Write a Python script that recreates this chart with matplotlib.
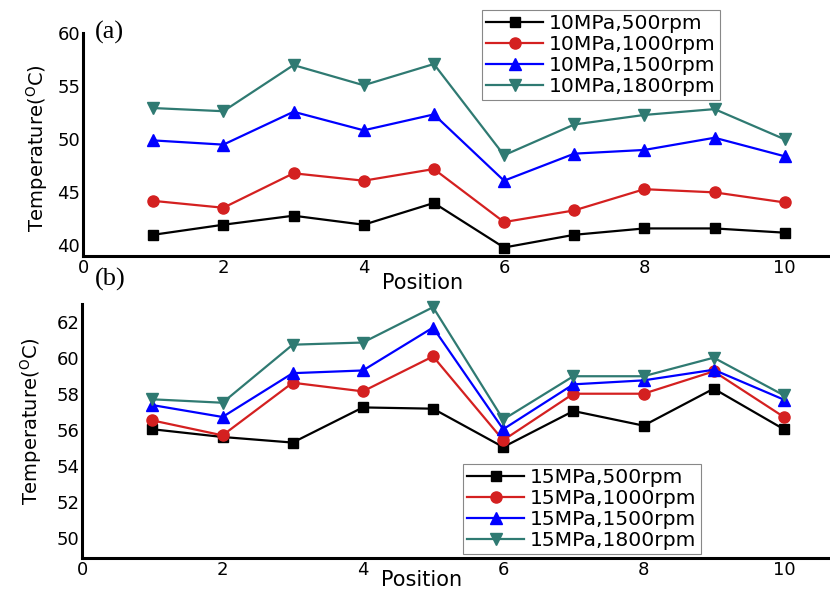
import matplotlib
matplotlib.use("Agg")
import matplotlib.pyplot as plt

plt.rcParams['font.family'] = ['DejaVu Sans']
plt.rcParams['mathtext.fontset'] = 'dejavusans'

positions = [1, 2, 3, 4, 5, 6, 7, 8, 9, 10]

# (a) 10 MPa
p10_500 = [41.0, 41.95, 42.8, 41.95, 44.0, 39.8, 41.0, 41.6, 41.6, 41.2]
p10_1000 = [44.2, 43.55, 46.8, 46.1, 47.2, 42.2, 43.3, 45.3, 45.0, 44.05]
p10_1500 = [49.9, 49.5, 52.6, 50.85, 52.35, 46.1, 48.65, 49.0, 50.15, 48.4]
p10_1800 = [52.95, 52.65, 57.0, 55.1, 57.1, 48.5, 51.4, 52.3, 52.85, 50.0]

# (b) 15 MPa
p15_500 = [56.06, 55.63, 55.32, 57.27, 57.2, 55.07, 57.07, 56.26, 58.31, 56.06]
p15_1000 = [56.55, 55.72, 58.64, 58.16, 60.1, 55.45, 58.03, 58.03, 59.27, 56.74]
p15_1500 = [57.4, 56.74, 59.17, 59.32, 61.7, 56.06, 58.55, 58.77, 59.36, 57.7]
p15_1800 = [57.72, 57.53, 60.75, 60.87, 62.83, 56.6, 59.0, 59.0, 60.03, 57.94]

speeds = ['500rpm', '1000rpm', '1500rpm', '1800rpm']
colors = ['black', '#d42020', '#0000ff', '#2f7a72']
markers = ['s', 'o', '^', 'v']
msizes = [7, 8, 9, 9]

fig = plt.figure(figsize=(8.30, 5.94), dpi=100)
ax_a = fig.add_axes([0.100, 0.569, 0.93, 0.375])
ax_b = fig.add_axes([0.099, 0.061, 0.93, 0.427])


def style(ax, ylim, yticks, xlab_y, ylab_xy):
    ax.set_xlim(0, 11.0)
    ax.set_ylim(*ylim)
    ax.set_xticks([0, 2, 4, 6, 8, 10])
    ax.set_yticks(yticks)
    for s in ('top', 'right'):
        ax.spines[s].set_visible(False)
    for s in ('left', 'bottom'):
        ax.spines[s].set_linewidth(2.2)
    ax.tick_params(length=0, labelsize=13, pad=2)
    ax.set_xlabel('Position', fontsize=15)
    ax.xaxis.set_label_coords(0.44, xlab_y)
    ax.xaxis.label.set_va('center')
    ax.set_ylabel('Temperature($^{\\mathrm{O}}$C)', fontsize=14)
    ax.yaxis.set_label_coords(*ylab_xy)
    ax.yaxis.label.set_va('center')


series_a = [p10_500, p10_1000, p10_1500, p10_1800]
series_b = [p15_500, p15_1000, p15_1500, p15_1800]

for vals, sp, c, m, ms in zip(series_a, speeds, colors, markers, msizes):
    ax_a.plot(positions, vals, color=c, marker=m, markersize=ms, lw=1.6,
              label='10MPa,' + sp, clip_on=False)
for vals, sp, c, m, ms in zip(series_b, speeds, colors, markers, msizes):
    ax_b.plot(positions, vals, color=c, marker=m, markersize=ms, lw=1.6,
              label='15MPa,' + sp, clip_on=False)

style(ax_a, (39, 60), [40, 45, 50, 55, 60], -0.121, (-0.0596, 0.485))
style(ax_b, (48.93, 63), [50, 52, 54, 56, 58, 60, 62], -0.088, (-0.066, 0.539))

leg_kw = dict(fontsize=14.6, frameon=True, fancybox=False, edgecolor='#888888',
              framealpha=1, handlelength=2.8, handletextpad=0.3,
              labelspacing=0.1, borderpad=0.2, borderaxespad=0,
              bbox_transform=fig.transFigure)
la = ax_a.legend(loc='upper left', bbox_to_anchor=(0.581, 0.983), **leg_kw)
la.get_frame().set_linewidth(0.8)
lb = ax_b.legend(loc='lower left', bbox_to_anchor=(0.558, 0.067), **leg_kw)
lb.get_frame().set_linewidth(0.8)

fig.text(0.114, 0.945, '(a)', family='Liberation Serif', fontsize=19,
         va='center', ha='left')
fig.text(0.114, 0.529, '(b)', family='Liberation Serif', fontsize=19,
         va='center', ha='left')

fig.savefig('out.png', dpi=100)
